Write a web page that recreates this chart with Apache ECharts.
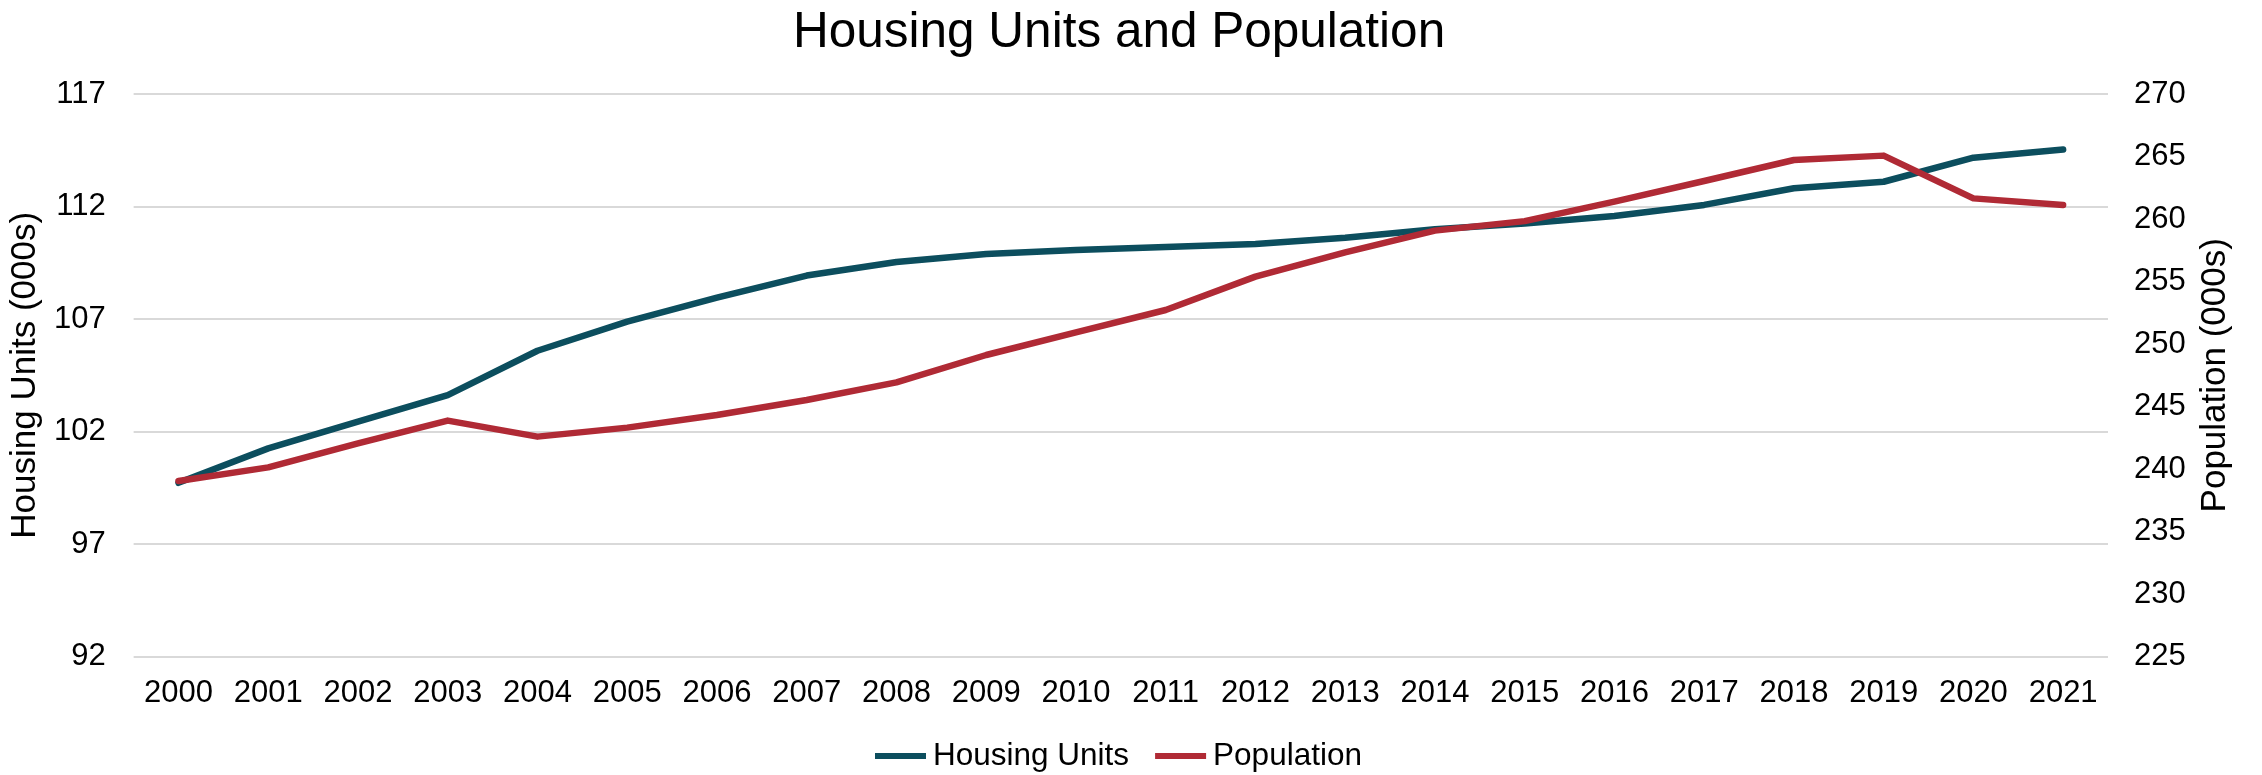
<!DOCTYPE html>
<html>
<head>
<meta charset="utf-8">
<title>Housing Units and Population</title>
<script src="https://cdn.jsdelivr.net/npm/echarts@6/dist/echarts.min.js"></script>
<style>
  html, body { margin: 0; padding: 0; background: #ffffff; }
  #chart { width: 2262px; height: 775px; }
</style>
</head>
<body>
<div id="chart"></div>
<script>
// Years on the category axis
const years = ['2000','2001','2002','2003','2004','2005','2006','2007','2008','2009','2010',
               '2011','2012','2013','2014','2015','2016','2017','2018','2019','2020','2021'];

// Housing units, thousands (left axis)
const housingUnits = [99.72, 101.25, 102.44, 103.62, 105.59, 106.88, 107.95, 108.93, 109.53, 109.89, 110.07,
                      110.20, 110.33, 110.61, 110.99, 111.24, 111.58, 112.07, 112.81, 113.10, 114.17, 114.53];

// Population, thousands (right axis)
const population = [239.04, 240.13, 242.05, 243.87, 242.59, 243.31, 244.32, 245.52, 246.93, 249.12, 250.93,
                    252.72, 255.39, 257.33, 259.07, 259.83, 261.39, 263.04, 264.72, 265.07, 261.65, 261.12];

// Axis ranges
const leftAxis = { min: 92, max: 117, interval: 5 };
const rightAxis = { min: 225, max: 270, interval: 5 };

const FONT = '"Liberation Sans", Arial, sans-serif';
const TEAL = '#0C4E5E';
const RED = '#B02A35';
const TICK_SIZE = 31;
const NAME_SIZE = 35;

const chart = echarts.init(document.getElementById('chart'), null, { renderer: 'canvas' });

chart.setOption({
  animation: false,
  backgroundColor: '#ffffff',
  textStyle: { fontFamily: FONT, color: '#000000' },
  title: {
    text: 'Housing Units and Population',
    left: 788,
    top: 3,
    textStyle: { fontFamily: FONT, fontSize: 49.5, fontWeight: 'normal', color: '#000000' }
  },
  legend: {
    left: 870,
    top: 735,
    icon: 'rect',
    itemWidth: 51,
    itemHeight: 6,
    itemGap: 26,
    textStyle: { fontFamily: FONT, fontSize: 31.5, color: '#000000', padding: [0, 0, 0, 2] },
    data: ['Housing Units', 'Population']
  },
  grid: { left: 130, right: 154, top: 94, bottom: 118.5, containLabel: false },
  xAxis: {
    type: 'category',
    data: years,
    boundaryGap: true,
    axisLine: { show: false },
    axisTick: { show: false },
    axisLabel: { fontFamily: FONT, fontSize: TICK_SIZE, color: '#000000', margin: 21, interval: 0 },
    splitLine: { show: false }
  },
  yAxis: [
    {
      type: 'value',
      min: leftAxis.min,
      max: leftAxis.max,
      interval: leftAxis.interval,
      name: 'Housing Units (000s)',
      nameLocation: 'middle',
      nameRotate: 90,
      nameGap: 68,
      nameTextStyle: { fontFamily: FONT, fontSize: NAME_SIZE, color: '#000000' },
      axisLine: { show: false },
      axisTick: { show: false },
      axisLabel: { fontFamily: FONT, fontSize: TICK_SIZE, color: '#000000', margin: 28 },
      splitLine: { show: true, lineStyle: { color: '#D9D9D9', width: 2 } }
    },
    {
      type: 'value',
      position: 'right',
      min: rightAxis.min,
      max: rightAxis.max,
      interval: rightAxis.interval,
      name: 'Population (000s)',
      nameLocation: 'middle',
      nameRotate: 90,
      nameGap: 90,
      nameTextStyle: { fontFamily: FONT, fontSize: NAME_SIZE, color: '#000000' },
      axisLine: { show: false },
      axisTick: { show: false },
      axisLabel: { fontFamily: FONT, fontSize: TICK_SIZE, color: '#000000', margin: 26 },
      splitLine: { show: false }
    }
  ],
  series: [
    {
      name: 'Housing Units',
      type: 'line',
      yAxisIndex: 0,
      data: housingUnits,
      showSymbol: false,
      symbol: 'none',
      color: TEAL,
      lineStyle: { color: TEAL, width: 6.5, cap: 'round', join: 'round' },
      z: 3
    },
    {
      name: 'Population',
      type: 'line',
      yAxisIndex: 1,
      data: population,
      showSymbol: false,
      symbol: 'none',
      color: RED,
      lineStyle: { color: RED, width: 6.5, cap: 'round', join: 'round' },
      z: 4
    }
  ]
});
</script>
</body>
</html>
